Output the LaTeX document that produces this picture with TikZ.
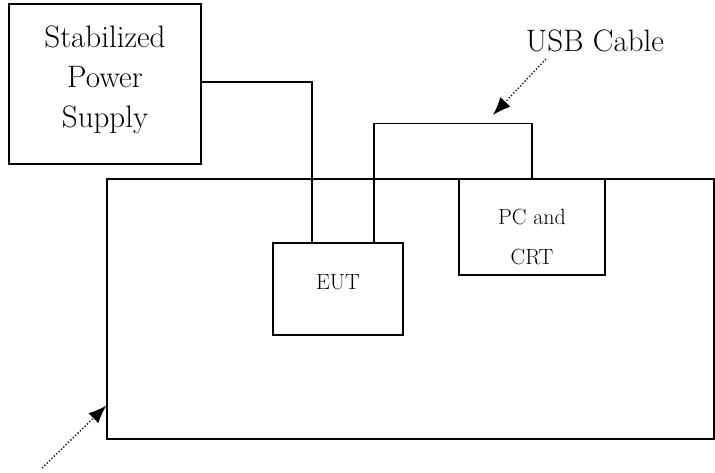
\documentclass[tikz,border=0pt]{standalone}
\usetikzlibrary{positioning, arrows.meta}
\tikzset{
  unit/.style={draw, line width=1.2pt, rectangle, inner sep=0pt, align=center},
  bigtext/.style={font=\fontsize{31}{40}\selectfont},
  smalltext/.style={font=\fontsize{22}{40}\selectfont},
  cable/.style={line width=1.2pt},
  pointer/.style={dotted, line width=1.3pt, -{Latex[length=18pt,width=14pt]}}
}
\begin{document}
\begin{tikzpicture}[x=1pt,y=1pt]
\useasboundingbox (0,0) rectangle (715,-473);
% boxes
\node[unit, bigtext, minimum width=192pt, minimum height=160pt, text height=88pt, text depth=0pt] (psu) at (105,-84) {Stabilized\\Power\\Supply};
\node[unit, minimum width=607pt, minimum height=260pt] (table) at (410.5,-309) {};
\node[unit, smalltext, minimum width=130pt, minimum height=92pt, text height=0pt, text depth=0pt] (eut) at (338,-289) {EUT};
\node[unit, smalltext, minimum width=146pt, minimum height=96pt, text height=76pt, text depth=0pt] (pc) at (532,-227) {PC and\\CRT};

% cables
\draw[cable] ([yshift=2pt]psu.east) -| ([xshift=-26pt]eut.north);
\draw[cable] ([xshift=36pt]eut.north) -- ++(0,119pt) -| (pc.north);

% labels
\node[bigtext, anchor=base] (usb) at (595,-52) {USB Cable};
\coordinate (usbtip) at (493,-115);
\draw[pointer] ([xshift=-49pt,yshift=-7pt]usb.base) -- (usbtip);
\coordinate (tablemark) at (42,-468);
\draw[pointer] (tablemark) -- ([yshift=34pt]table.south west);

\end{tikzpicture}
\end{document}
